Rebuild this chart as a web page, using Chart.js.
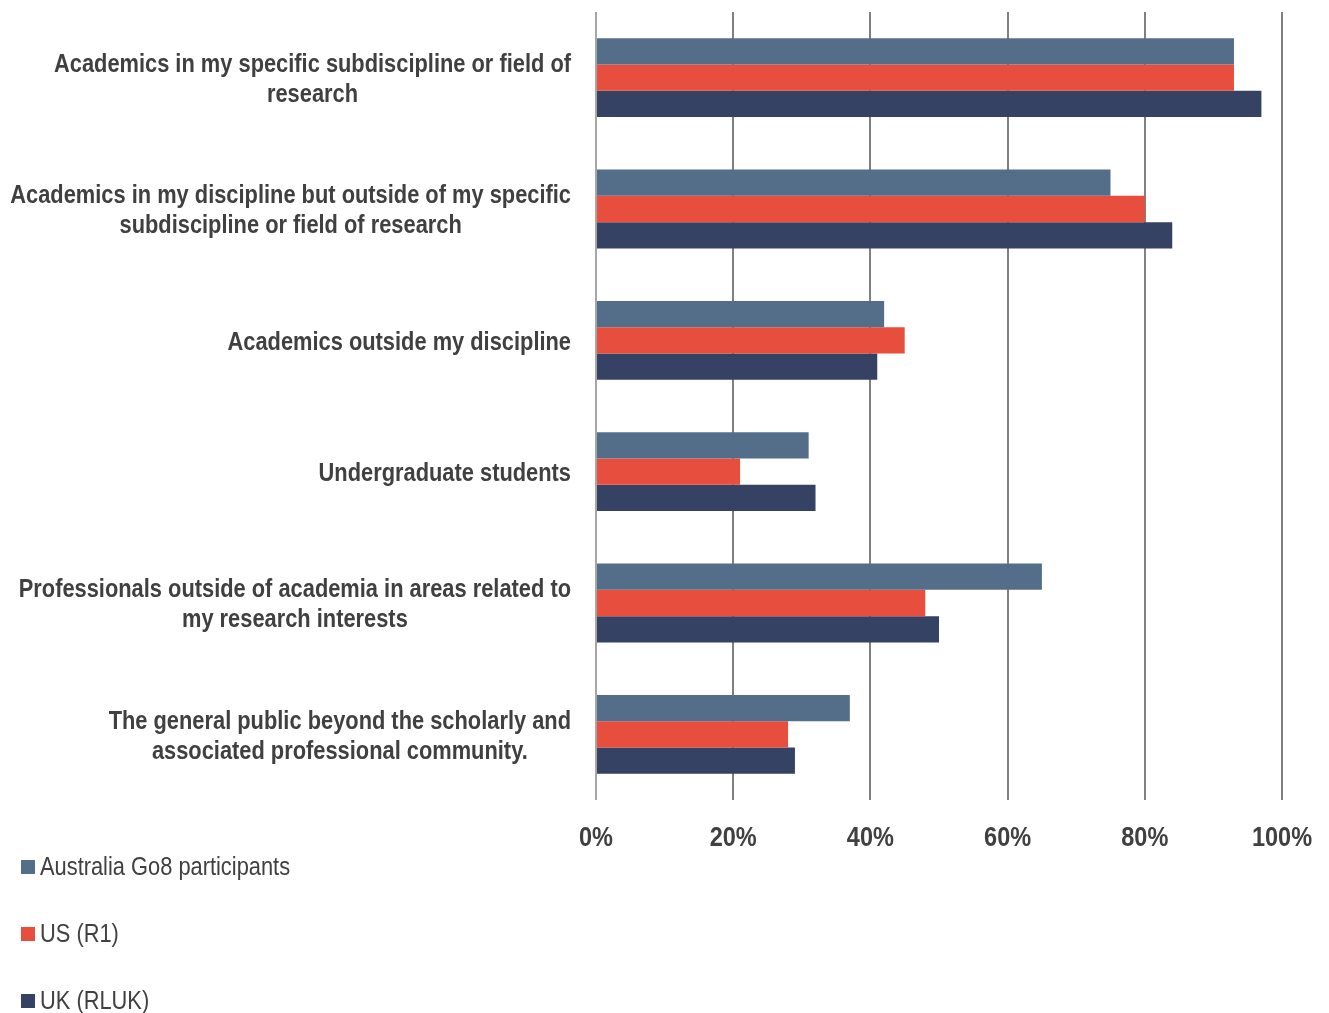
<!DOCTYPE html>
<html>
<head>
<meta charset="utf-8">
<script src="https://cdn.jsdelivr.net/npm/chart.js@4.4.1/dist/chart.umd.min.js"></script>
<style>
  html, body { margin: 0; padding: 0; background: #fff; }
  #wrap { position: relative; width: 1329px; height: 1013px; }
  #legend { position: absolute; left: 21px; top: 848px; font-family: 'Liberation Sans', Arial, sans-serif; font-size: 26px; color: #404040; }
  #legend div { height: 67px; line-height: 36px; white-space: nowrap; }
  #legend span.box { display: inline-block; width: 14px; height: 14px; margin-right: 5px; vertical-align: 1px; }
  #legend span.txt { display: inline-block; transform: scaleX(0.84); transform-origin: left center; }
</style>
</head>
<body>
<div id="wrap">
  <canvas id="barChart" width="1329" height="1013"></canvas>
  <div id="legend"></div>
</div>
<script>
var categories = [
    ['Academics in my specific subdiscipline or field of', 'research'],
    ['Academics in my discipline but outside of my specific', 'subdiscipline or field of research'],
    ['Academics outside my discipline'],
    ['Undergraduate students'],
    ['Professionals outside of academia in areas related to', 'my research interests'],
    ['The general public beyond the scholarly and', 'associated professional community.']
];
var seriesNames = ['Australia Go8 participants', 'US (R1)', 'UK (RLUK)'];
var australia = [93, 75, 42, 31, 65, 37];
var us = [93, 80, 45, 21, 48, 28];
var uk = [97, 84, 41, 32, 50, 29];
var tickValues = [0, 20, 40, 60, 80, 100];
var colors = ['#546e8a', '#e84e3d', '#364264'];

// Arial Narrow look: bold Liberation Sans squeezed horizontally
var narrow = 0.84;
var textColor = '#404040';

function drawNarrow(ctx, text, x, y, align) {
    ctx.save();
    ctx.translate(x, y);
    ctx.scale(narrow, 1);
    ctx.textAlign = align;
    ctx.fillText(text, 0, 0);
    ctx.restore();
}

// category names (block right-aligned, lines centred inside it) and percent ticks
var axisText = {
    id: 'axisText',
    afterDraw: function(chart) {
        var ctx = chart.ctx;
        var ys = chart.scales.y;
        var xs = chart.scales.x;
        ctx.save();
        ctx.fillStyle = textColor;
        ctx.textBaseline = 'middle';
        ctx.font = 'bold 26px "Liberation Sans", Arial, sans-serif';
        var lineH = 30;
        categories.forEach(function(lines, i) {
            var y = ys.getPixelForTick(i) + 2;
            var w = 0;
            lines.forEach(function(l) { w = Math.max(w, ctx.measureText(l).width * narrow); });
            var cx = chart.chartArea.left - 25 - w / 2;
            lines.forEach(function(l, j) {
                drawNarrow(ctx, l, cx, y + (j - (lines.length - 1) / 2) * lineH, 'center');
            });
        });
        ctx.font = 'bold 28px "Liberation Sans", Arial, sans-serif';
        tickValues.forEach(function(v) {
            drawNarrow(ctx, v + '%', xs.getPixelForValue(v), chart.chartArea.bottom + 38, 'center');
        });
        ctx.restore();
    }
};

var ctx = document.getElementById('barChart').getContext('2d');
var myChart = new Chart(ctx, {
    type: 'bar',
    data: {
        labels: categories,
        datasets: [
            { label: seriesNames[0], data: australia, backgroundColor: colors[0] },
            { label: seriesNames[1], data: us, backgroundColor: colors[1] },
            { label: seriesNames[2], data: uk, backgroundColor: colors[2] }
        ]
    },
    options: {
        indexAxis: 'y',
        responsive: false,
        animation: false,
        layout: { padding: { top: 12, right: 47, left: 0, bottom: 0 } },
        datasets: { bar: { categoryPercentage: 0.6, barPercentage: 1.0 } },
        plugins: {
            legend: { display: false },
            tooltip: { enabled: false }
        },
        scales: {
            x: {
                min: 0,
                max: 100,
                afterBuildTicks: function(scale) {
                    scale.ticks = tickValues.map(function(v) { return { value: v }; });
                },
                afterFit: function(scale) { scale.height = 213; },
                ticks: { display: false },
                grid: {
                    drawTicks: false,
                    lineWidth: 2,
                    color: function(c) { return c.index === 0 ? '#a6a6a6' : '#808080'; }
                },
                border: { display: false }
            },
            y: {
                afterFit: function(scale) { scale.width = 596; },
                ticks: { display: false },
                grid: { display: false },
                border: { display: false }
            }
        }
    },
    plugins: [axisText]
});

// legend stacked under the axis
var legend = document.getElementById('legend');
seriesNames.forEach(function(name, i) {
    var row = document.createElement('div');
    var box = document.createElement('span');
    box.className = 'box';
    box.style.background = colors[i];
    var txt = document.createElement('span');
    txt.className = 'txt';
    txt.textContent = name;
    row.appendChild(box);
    row.appendChild(txt);
    legend.appendChild(row);
});
</script>
</body>
</html>
